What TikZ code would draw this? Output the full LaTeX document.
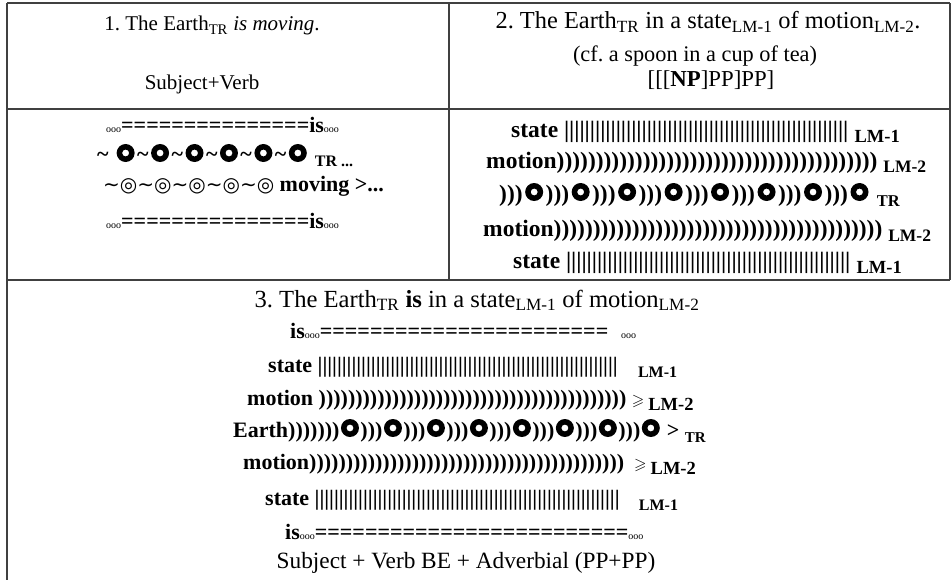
\documentclass[tikz,border=0pt]{standalone}
\usepackage{fontspec}
\usepackage{amssymb}
\setmainfont{Liberation Serif}
\newfontfamily\symfont{DejaVu Sans}
\frenchspacing

\newcommand\ooo{{\fontsize{10}{10}\selectfont\mdseries ooo}}
\newcommand\lab[2][16]{\raisebox{-5pt}{\fontsize{#1}{#1}\selectfont #2}}
\newcommand\ring[1][23pt]{\makebox[#1]{\tikz[baseline=-9pt]\fill[even odd rule] (0,0) circle (9pt) (0,0) circle (3.5pt);}}
\newcommand\gslant{{\fontsize{16}{16}\selectfont$\geqslant$}}

\begin{document}
\begin{tikzpicture}[x=1pt,y=-1pt,
    every node/.style={inner sep=0pt,font=\fontsize{22}{26}\selectfont},
    heading/.style={anchor=base,font=\fontsize{#1}{30}\selectfont},
    heading/.default=22,
    row/.style={anchor=base west,font=\fontsize{#1}{26}\selectfont\bfseries},
    row/.default=22,
    tabline/.style={line width=1.4pt,draw=black!75}]
        \useasboundingbox (0,0) rectangle (952,580);

        % Table lines
        \draw[tabline] (7,3) -- (950,3);
        \draw[tabline] (7,109) -- (950,109);
        \draw[tabline] (7,280) -- (950,280);
        \draw[tabline] (7,3) -- (7,580);
        \draw[tabline] (449,3) -- (449,280);
        \draw[tabline] (950,3) -- (950,280);

        % Cell 1: the Earth is moving
        \node[heading=21] (tone) at (212,31) {1. The Earth\textsubscript{TR} \textit{is moving}.};
        \node[heading=21] (sone) at (202,90) {Subject+Verb};

        % Cell 2: in a state of motion
        \node[heading=24.4] (ttwo) at (708,29) {2. The Earth\textsubscript{TR} in a state\textsubscript{LM-1} of motion\textsubscript{LM-2}.};
        \node[heading=22.3] (cftwo) at (695,62) {(cf. a spoon in a cup of tea)};
        \node[heading=22.8] (brtwo) at (711,87) {[[[\textbf{NP}]PP]PP]};

        % Picture for cell 1
        \node[row] (isone) at (106,133) {\ooo===============is\ooo};
        \node[row] (trone) at (97,162) {\textasciitilde{} \ring\textasciitilde\ring\textasciitilde\ring\textasciitilde\ring\textasciitilde\ring\textasciitilde\ring{} \lab{TR ...}};
        \node[row] (mvone) at (103,192) {{\symfont\mdseries\fontsize{20}{24}\selectfont ∼◎∼◎∼◎∼◎∼◎} moving >...};
        \node[row] (istwo) at (106,228) {\ooo===============is\ooo};

        % Picture for cell 2
        \node[row=23.5] (sttwo) at (511,138) {state ||||||||||||||||||||||||||||||||||||||||||||||||||||||| \lab[18.5]{LM-1}};
        \node[row=23.5] (motwo) at (486,168) {motion))))))))))))))))))))))))))))))))))))))))) \lab[17.5]{LM-2}};
        \node[row=23.5] (trtwo) at (499,201) {)))\ring)))\ring)))\ring)))\ring)))\ring)))\ring)))\ring)))\ring{} \lab[16.5]{TR}};
        \node[row=23.5] (mothree) at (483,236) {motion)))))))))))))))))))))))))))))))))))))))))) \lab[17.5]{LM-2}};
        \node[row=23.5] (stthree) at (513,268) {state ||||||||||||||||||||||||||||||||||||||||||||||||||||||| \lab[18.5]{LM-1}};

        % Cell 3: the Earth is in a state of motion
        \node[heading=24.6] (tthree) at (477,307) {3. The Earth\textsubscript{TR} \textbf{is} in a state\textsubscript{LM-1} of motion\textsubscript{LM-2}};
        \node[row] (isthree) at (290,338) {is\ooo=======================\hspace{13pt}\ooo};
        \node[row] (stfour) at (268,372) {state ||||||||||||||||||||||||||||||||||||||||||||||||||||||||||||||\hspace{20pt}\lab{LM-1}};
        \node[row] (mofour) at (247,405) {motion )))))))))))))))))))))))))))))))))))))))))) \gslant\hspace{4pt}\lab[18.5]{LM-2}};
        \node[row] (earth) at (233,437) {Earth)))))))\ring[21pt])))\ring[21pt])))\ring[21pt])))\ring[21pt])))\ring[21pt])))\ring[21pt])))\ring[21pt])))\ring[21pt] > \lab[15]{TR}};
        \node[row] (mofive) at (243,469) {motion)))))))))))))))))))))))))))))))))))))))))))\hspace{10pt}\gslant\hspace{4pt}\lab[18.5]{LM-2}};
        \node[row] (stfive) at (265,505) {state |||||||||||||||||||||||||||||||||||||||||||||||||||||||||||||||\hspace{19pt}\lab{LM-1}};
        \node[row] (isfour) at (285,539) {is\ooo=========================\ooo};
        \node[heading=23.3] (sthree) at (466,568) {Subject + Verb BE + Adverbial (PP+PP)};
    \end{tikzpicture}
\end{document}
